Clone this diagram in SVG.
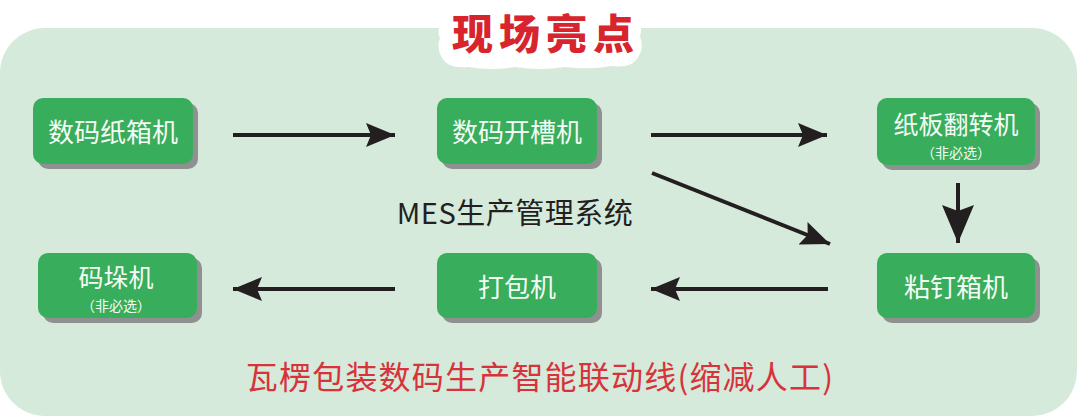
<svg xmlns="http://www.w3.org/2000/svg" width="1080" height="418" viewBox="0 0 1080 418">
<style>
.box{fill:#38ad5c}
.sh{fill:#8e9190}
.lbl{font-family:"Noto Sans CJK SC","Noto Sans",sans-serif;fill:#f4fbf5;font-size:26px;text-anchor:middle}
.lbl2{font-family:"Noto Sans CJK SC","Noto Sans",sans-serif;fill:#f4fbf5;font-size:25px;text-anchor:middle}
.sub{font-family:"Noto Sans CJK SC","Noto Sans",sans-serif;fill:#f4fbf5;font-size:14px;text-anchor:middle}
.ln{stroke:#231f20;stroke-width:4;fill:none}
</style>
<defs>
<marker id="ah" markerUnits="userSpaceOnUse" markerWidth="30" markerHeight="26" viewBox="0 0 30 26" refX="29" refY="13" orient="auto">
<path d="M0,1 L29,13 L0,25 L5,13 Z" fill="#231f20"/>
</marker>
<marker id="ahb" markerUnits="userSpaceOnUse" markerWidth="40" markerHeight="34" viewBox="0 0 40 34" refX="38" refY="17" orient="auto">
<path d="M0,1 L38,17 L0,33 L6,17 Z" fill="#231f20"/>
</marker>
</defs>
<rect width="1080" height="418" fill="#ffffff"/>
<rect x="0" y="28" width="1077" height="388" rx="45" fill="#d5eadb"/>
<g id="title">
<path d="M442,24 Q440,12 452,12 Q470,8 490,10 Q520,6 545,9 Q575,6 600,9 Q625,7 634,14 Q644,22 640,36 Q645,50 636,60 Q630,68 612,66 Q590,70 565,67 Q540,71 515,67 Q490,71 468,67 Q448,69 442,58 Q436,48 440,38 Q436,30 442,24 Z" fill="#ffffff"/>
<text x="546" y="49" font-family="Noto Sans CJK SC,sans-serif" font-weight="900" font-size="41" fill="#d8242c" text-anchor="middle" letter-spacing="6">现场亮点</text>
</g>
<g id="n1">
<rect class="sh" x="38" y="103" width="160" height="66" rx="10"/>
<rect class="box" x="33" y="98" width="160" height="66" rx="10"/>
<text class="lbl" x="113" y="142">数码纸箱机</text>
</g>
<g id="n2">
<rect class="sh" x="442" y="103" width="160" height="66" rx="10"/>
<rect class="box" x="437" y="98" width="160" height="66" rx="10"/>
<text class="lbl" x="517" y="142">数码开槽机</text>
</g>
<g id="n3">
<rect class="sh" x="882" y="103" width="158" height="67" rx="10"/>
<rect class="box" x="877" y="98" width="158" height="67" rx="10"/>
<text class="lbl2" x="956" y="134">纸板翻转机</text>
<text class="sub" x="956" y="158">（非必选）</text>
</g>
<g id="n4">
<rect class="sh" x="882" y="258" width="158" height="65" rx="10"/>
<rect class="box" x="877" y="253" width="158" height="65" rx="10"/>
<text class="lbl" x="956" y="297">粘钉箱机</text>
</g>
<g id="n5">
<rect class="sh" x="442" y="258" width="160" height="65" rx="10"/>
<rect class="box" x="437" y="253" width="160" height="65" rx="10"/>
<text class="lbl" x="517" y="297">打包机</text>
</g>
<g id="n6">
<rect class="sh" x="43" y="258" width="159" height="65" rx="10"/>
<rect class="box" x="38" y="253" width="159" height="65" rx="10"/>
<text class="lbl2" x="116" y="287">码垛机</text>
<text class="sub" x="116" y="311">（非必选）</text>
</g>
<g id="connectors">
<line class="ln" x1="233" y1="135" x2="395" y2="135" marker-end="url(#ah)"/>
<line class="ln" x1="651" y1="135" x2="827" y2="135" marker-end="url(#ah)"/>
<line class="ln" x1="652" y1="173" x2="830" y2="244" marker-end="url(#ah)"/>
<line class="ln" x1="958" y1="183" x2="958" y2="243" marker-end="url(#ahb)"/>
<line class="ln" x1="828" y1="289" x2="651" y2="289" marker-end="url(#ah)"/>
<line class="ln" x1="395" y1="289" x2="233" y2="289" marker-end="url(#ah)"/>
</g>
<text x="515" y="224" font-family="Noto Sans CJK SC,sans-serif" font-size="29" fill="#231f20" text-anchor="middle" letter-spacing="0.5">MES生产管理系统</text>
<text x="540" y="389" font-family="Noto Sans CJK SC,sans-serif" font-size="32" fill="#d8333a" text-anchor="middle" letter-spacing="1.2">瓦楞包装数码生产智能联动线(缩减人工)</text>
</svg>
